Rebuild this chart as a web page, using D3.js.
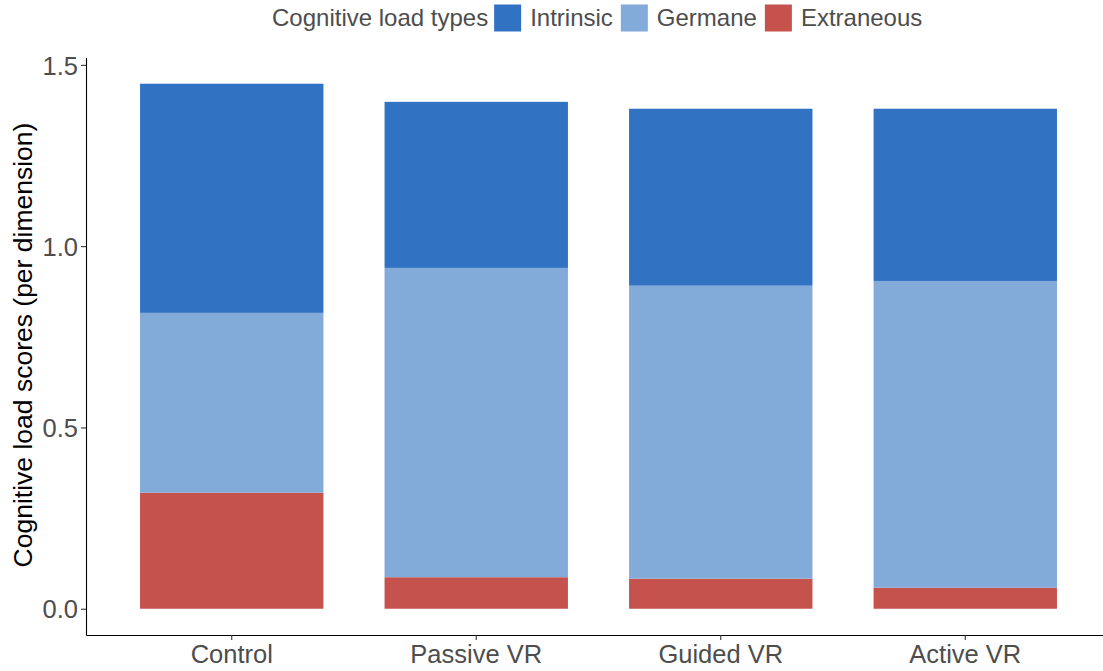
<!DOCTYPE html>
<html>
<head>
<meta charset="utf-8">
<script src="https://cdn.jsdelivr.net/npm/d3@7"></script>
<style>
  html, body { margin: 0; padding: 0; background: #fff; }
  svg { display: block; font-family: "Liberation Sans", Arial, sans-serif; }
</style>
</head>
<body>
<svg id="chart" width="1103" height="671"></svg>
<script>
// ---- data ----
const categories = ["Control", "Passive VR", "Guided VR", "Active VR"];
const loadTypes = ["Extraneous", "Germane", "Intrinsic"]; // stacking order bottom -> top
const legendOrder = ["Intrinsic", "Germane", "Extraneous"];
const extraneous = [0.320, 0.087, 0.083, 0.058];
const germane    = [0.496, 0.853, 0.808, 0.846];
const intrinsic  = [0.632, 0.458, 0.488, 0.475];
const yTicks = [0.0, 0.5, 1.0, 1.5];
const legendTitle = "Cognitive load types";
const yTitle = "Cognitive load scores (per dimension)";

const colors = { Intrinsic: "#3173c2", Germane: "#82abd9", Extraneous: "#c6524d" };

const rows = categories.map((c, i) => ({
  category: c, Extraneous: extraneous[i], Germane: germane[i], Intrinsic: intrinsic[i]
}));

const svg = d3.select("#chart");

const x = d3.scaleBand().domain(categories).range([86, 1111]).paddingInner(0.25).paddingOuter(0.221);
const y = d3.scaleLinear().domain([-0.0724, 1.52]).range([635, 57.6]);

const stack = d3.stack().keys(loadTypes);
const series = stack(rows);

svg.append("g").selectAll("g")
  .data(series).join("g")
  .attr("fill", d => colors[d.key])
  .selectAll("rect")
  .data(d => d).join("rect")
  .attr("x", d => x(d.data.category))
  .attr("width", x.bandwidth())
  .attr("y", d => y(d[1]))
  .attr("height", d => y(d[0]) - y(d[1]));

// y axis
const yAxis = svg.append("g").attr("transform", "translate(86,0)")
  .call(d3.axisLeft(y).tickValues(yTicks).tickFormat(d3.format(".1f")).tickSize(5).tickSizeOuter(0));
yAxis.select(".domain").attr("stroke", "#000").attr("stroke-width", 1.1);
yAxis.selectAll(".tick line").attr("stroke", "#333").attr("stroke-width", 1.1);
yAxis.selectAll(".tick text").attr("fill", "#4d4d4d").attr("font-size", 25.5).attr("x", -8)
  .attr("dy", "0.36em")
  .attr("font-family", "Liberation Sans, Arial, sans-serif");

// x axis
const xAxis = svg.append("g").attr("transform", "translate(0,635)")
  .call(d3.axisBottom(x).tickSize(5).tickSizeOuter(0));
xAxis.select(".domain").attr("stroke", "#000").attr("stroke-width", 1.1);
xAxis.selectAll(".tick line").attr("stroke", "#333").attr("stroke-width", 1.1);
xAxis.selectAll(".tick text").attr("fill", "#4d4d4d").attr("font-size", 25.5).attr("y", 10)
  .attr("font-family", "Liberation Sans, Arial, sans-serif");

// y title
svg.append("text")
  .attr("transform", "translate(32,345) rotate(-90)")
  .attr("text-anchor", "middle")
  .attr("font-size", 26.5)
  .attr("fill", "#000")
  .text(yTitle);

// legend
const leg = svg.append("g");
const fs = 24;
let cx = 272;
const ly = 18;
const t = leg.append("text").attr("x", cx).attr("y", ly).attr("dy", "0.35em")
  .attr("font-size", fs).attr("fill", "#4d4d4d").text(legendTitle);
cx += t.node().getComputedTextLength() + 6;
legendOrder.forEach(k => {
  leg.append("rect").attr("x", cx).attr("y", ly - 13.5).attr("width", 27).attr("height", 27)
    .attr("fill", colors[k]);
  cx += 27 + 9;
  const tt = leg.append("text").attr("x", cx).attr("y", ly).attr("dy", "0.35em")
    .attr("font-size", fs).attr("fill", "#4d4d4d").text(k);
  cx += tt.node().getComputedTextLength() + 8;
});
</script>
</body>
</html>
